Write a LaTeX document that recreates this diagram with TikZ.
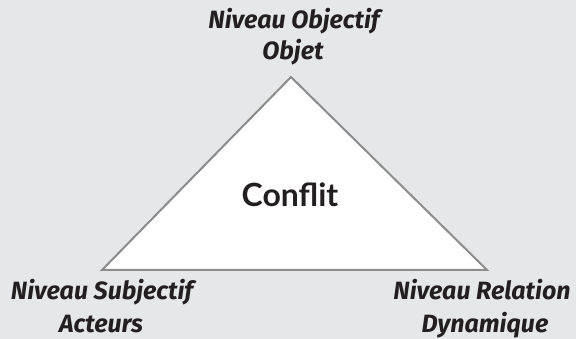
\documentclass[tikz,border=0pt]{standalone}
\usepackage{fontspec}
\setmainfont{Lato}
\newfontfamily\lblfont{Fira Sans}
\definecolor{bg}{HTML}{E6E7E8}
\definecolor{edge}{HTML}{8C8C8C}
\definecolor{ink}{HTML}{231F20}
\begin{document}
\begin{tikzpicture}[x=1pt,y=-1pt,
  lbl/.style={font=\lblfont\fontsize{25}{27}\selectfont\bfseries\itshape, text=ink, inner sep=0pt, anchor=base},
  tri/.style={draw=edge, fill=white, line width=2pt, line join=miter}]
\fill[bg] (0,0) rectangle (576,339);
\useasboundingbox (0,0) rectangle (576,339);
\coordinate (A) at (291,77);
\coordinate (B) at (102,270);
\coordinate (C) at (487,270);
\draw[tri] (A) -- (B) -- (C) -- cycle;
\node[font=\fontsize{32}{36}\selectfont\bfseries, text=ink, inner sep=0pt, anchor=base] (conf) at (290,207) {Conflit};
\node[lbl] (top1) at (294,29) {Niveau Objectif};
\node[lbl] (top2) at (293,60) {Objet};
\node[lbl] (left1) at (102,300) {Niveau Subjectif};
\node[lbl] (left2) at (101,332) {Acteurs};
\node[lbl] (right1) at (482,300) {Niveau Relation};
\node[lbl] (right2) at (485,332) {Dynamique};
\end{tikzpicture}
\end{document}
